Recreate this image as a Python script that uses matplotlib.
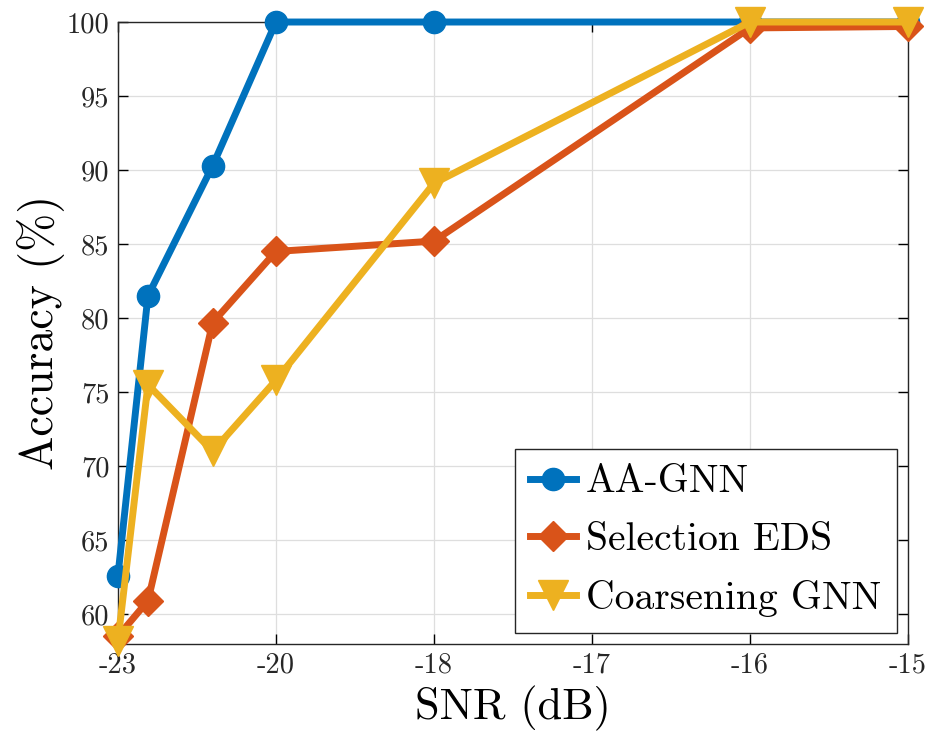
import matplotlib
matplotlib.use("Agg")
import matplotlib.pyplot as plt

# Data
x_pos = [0, 0.19, 0.6, 1, 2, 4, 5]
tick_pos = [0, 1, 2, 3, 4, 5]
tick_labels = ['-23', '-20', '-18', '-17', '-16', '-15']
aa_gnn = [62.6, 81.5, 90.3, 100, 100, 100, 100]
selection_eds = [58.5, 60.9, 79.7, 84.5, 85.2, 99.6, 99.7]
coarsening_gnn = [58.2, 75.5, 71.0, 75.8, 89.1, 100, 100]
y_ticks = [60, 65, 70, 75, 80, 85, 90, 95, 100]

plt.rcParams['font.family'] = 'serif'
plt.rcParams['font.serif'] = ['cmr10', 'DejaVu Serif']
plt.rcParams['mathtext.fontset'] = 'cm'
plt.rcParams['axes.unicode_minus'] = False

fig = plt.figure(figsize=(9.36, 7.34), dpi=100)
ax = fig.add_axes([0.126, 0.123, 0.844, 0.847])

ax.plot(x_pos, aa_gnn, color='#0072BD', lw=5, marker='o', ms=16, label='AA-GNN',
        zorder=3, clip_on=False)
ax.plot(x_pos, selection_eds, color='#D95319', lw=5, marker='D', ms=15, label='Selection EDS',
        zorder=4, clip_on=False)
ax.plot(x_pos, coarsening_gnn, color='#EDB120', lw=5, marker='v', ms=22, label='Coarsening GNN',
        zorder=5, clip_on=False)

ax.set_xlim(0, 5)
ax.set_ylim(58, 100)
ax.set_xticks(tick_pos)
ax.set_xticklabels(tick_labels)
ax.set_yticks(y_ticks)
ax.tick_params(direction='in', length=7, width=1, labelsize=20.5, top=True, right=True, pad=6)
ax.grid(True, color='#dedede', lw=0.9)
ax.set_axisbelow(True)
for s in ax.spines.values():
    s.set_color('#262626')
    s.set_linewidth(1)
    s.set_zorder(2)

ax.set_xlabel('SNR (dB)', fontsize=32, labelpad=5)
ax.set_ylabel('Accuracy (%)', fontsize=33, labelpad=1)

leg = ax.legend(loc='lower right', fontsize=28.5, frameon=True, fancybox=False,
                edgecolor='#262626', handlelength=1.15, handletextpad=0.25,
                borderaxespad=0.28, labelspacing=0.55, borderpad=0.4, framealpha=1)
leg.get_frame().set_linewidth(1)
leg.set_zorder(10)

for t in ax.get_xticklabels() + ax.get_yticklabels():
    t.set_color('#262626')

fig.savefig('out.png', dpi=100)
